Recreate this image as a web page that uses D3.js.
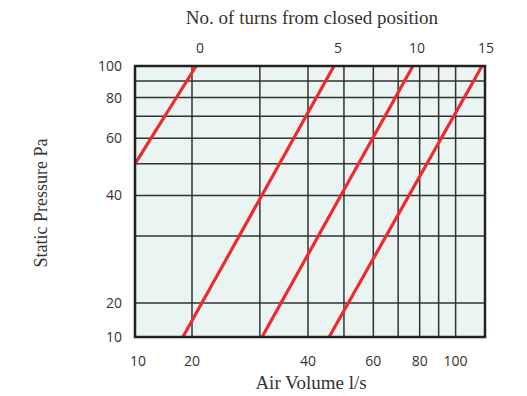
<!DOCTYPE html>
<html>
<head>
<meta charset="utf-8">
<script src="https://cdn.jsdelivr.net/npm/d3@7"></script>
<style>
    body { margin: 0; background: #fff; }
    .tick { font-family: "Open Sans", sans-serif; font-size: 14px; fill: #333; }
    .title { font-family: "Liberation Serif", serif; font-size: 17px; fill: #333; }
</style>
</head>
<body>
<div id="graphSpace"></div>
<script>
// Air volume (l/s) / static pressure (Pa)
var turns = ["0", "5", "10", "15"];
var volStart = [10, 17.9, 30.4, 45.6];
var presStart = [50, 10, 10, 10];
var volEnd = [20.5, 47, 76.7, 117.8];
var presEnd = [100, 100, 100, 100];

var xGrid = [20, 30, 40, 50, 60, 70, 80, 90, 100];
var yGrid = [20, 30, 40, 50, 60, 70, 80, 90];
var xTicks = [10, 20, 40, 60, 80, 100];
var yTicks = [10, 20, 40, 60, 80, 100];

var width = 527, height = 396;

var svg = d3.select("#graphSpace").append("svg")
    .attr("width", width)
    .attr("height", height);

// the printed chart is not a clean log scale, so piecewise log
var x = d3.scaleLog().domain([10, 20, 40, 120]).range([135, 192, 308, 485]);
var y = d3.scaleLog().domain([10, 20, 30, 100]).range([337, 303, 236, 66]);

var plotLeft = x(10), plotRight = x(120), plotTop = y(100), plotBottom = y(10);

svg.append("rect")
    .attr("x", plotLeft).attr("y", plotTop)
    .attr("width", plotRight - plotLeft).attr("height", plotBottom - plotTop)
    .attr("fill", "#eaf4f2");

svg.append("g").selectAll("line")
    .data(xGrid)
    .enter().append("line")
    .attr("x1", function (d) { return x(d); })
    .attr("x2", function (d) { return x(d); })
    .attr("y1", plotTop).attr("y2", plotBottom)
    .attr("stroke", "#333").attr("stroke-width", 1.5);

svg.append("g").selectAll("line")
    .data(yGrid)
    .enter().append("line")
    .attr("y1", function (d) { return y(d); })
    .attr("y2", function (d) { return y(d); })
    .attr("x1", plotLeft).attr("x2", plotRight)
    .attr("stroke", "#333").attr("stroke-width", 1.5);

// lines for each number of turns
var line = d3.line();
svg.append("g").selectAll("path")
    .data(turns)
    .enter().append("path")
    .attr("d", function (d, i) {
        return line([[x(volStart[i]), y(presStart[i])], [x(volEnd[i]), y(presEnd[i])]]);
    })
    .attr("fill", "none")
    .attr("stroke", "#ee2a2e")
    .attr("stroke-width", 3.2);

svg.append("rect")
    .attr("x", plotLeft).attr("y", plotTop)
    .attr("width", plotRight - plotLeft).attr("height", plotBottom - plotTop)
    .attr("fill", "none")
    .attr("stroke", "#222").attr("stroke-width", 2.5);

svg.append("g").selectAll("text")
    .data(xTicks)
    .enter().append("text")
    .attr("class", "tick")
    .attr("x", function (d) { return x(d) + (d == 10 ? 3 : 0); })
    .attr("y", 366)
    .attr("text-anchor", "middle")
    .text(function (d) { return d; });

svg.append("g").selectAll("text")
    .data(yTicks)
    .enter().append("text")
    .attr("class", "tick")
    .attr("x", 122)
    .attr("y", function (d) { return y(d); })
    .attr("dy", "0.36em")
    .attr("text-anchor", "end")
    .text(function (d) { return d; });

svg.append("g").selectAll("text")
    .data(turns)
    .enter().append("text")
    .attr("class", "tick")
    .attr("x", function (d, i) { return x(volEnd[i]) + 4; })
    .attr("y", 53)
    .attr("text-anchor", "middle")
    .text(function (d) { return d; });

svg.append("text")
    .attr("class", "title")
    .attr("x", 312).attr("y", 24)
    .style("font-size", "19px")
    .attr("text-anchor", "middle")
    .text("No. of turns from closed position");

svg.append("text")
    .attr("class", "title")
    .attr("x", 311).attr("y", 389)
    .style("font-size", "19px")
    .attr("text-anchor", "middle")
    .text("Air Volume l/s");

svg.append("text")
    .attr("class", "title")
    .attr("transform", "translate(47,203) rotate(-90)")
    .style("font-size", "18px")
    .attr("text-anchor", "middle")
    .text("Static Pressure Pa");
</script>
</body>
</html>
